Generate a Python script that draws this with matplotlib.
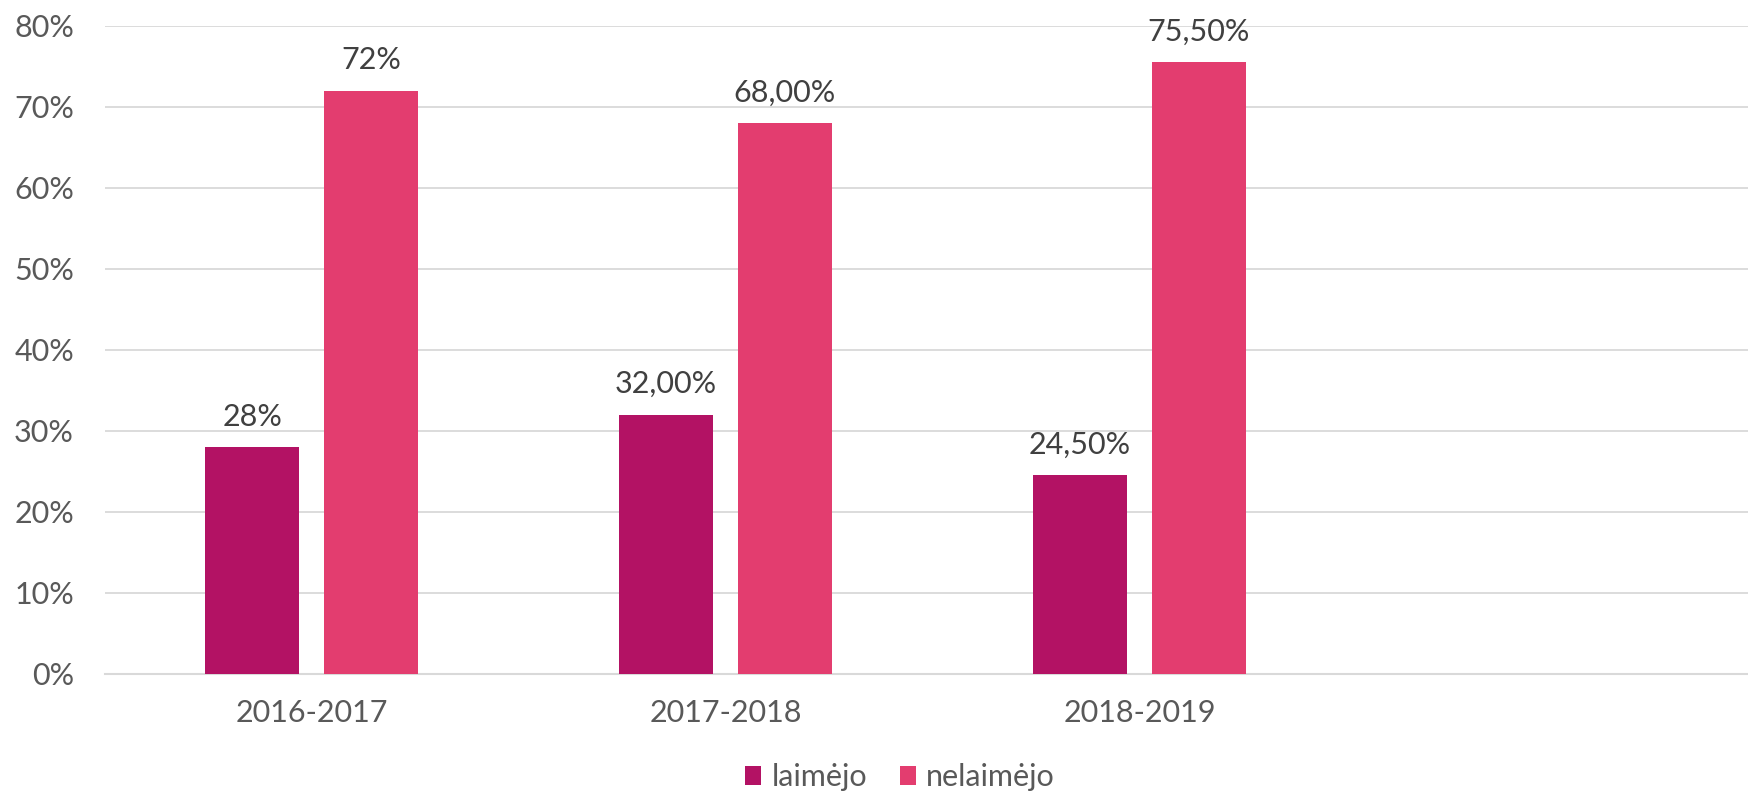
import matplotlib
matplotlib.use('Agg')
import matplotlib.pyplot as plt
from matplotlib.ticker import FuncFormatter

# data
categories = ['2016-2017', '2017-2018', '2018-2019', '']
laimejo = [0.28, 0.32, 0.245]
nelaimejo = [0.72, 0.68, 0.755]
laimejo_labels = ['28%', '32,00%', '24,50%']
nelaimejo_labels = ['72%', '68,00%', '75,50%']
series_names = ['laimėjo', 'nelaimėjo']

plt.rcParams['font.family'] = ['Lato', 'DejaVu Sans']

fig = plt.figure(figsize=(17.48, 7.96), dpi=100)
# plot area runs slightly past the right edge (4th category is empty)
ax = fig.add_axes([0.0598, 0.1533, 0.9474, 0.8144])

width = 0.226
offset = 0.1435
x = list(range(len(laimejo)))
b1 = ax.bar([i - offset for i in x], laimejo, width, color='#B31264', label=series_names[0], zorder=3)
b2 = ax.bar([i + offset for i in x], nelaimejo, width, color='#E33D6F', label=series_names[1], zorder=3)

for bars, labels in [(b1, laimejo_labels), (b2, nelaimejo_labels)]:
    for rect, lab in zip(bars, labels):
        ax.annotate(lab, (rect.get_x() + rect.get_width() / 2, rect.get_height()),
                    xytext=(0, 22), textcoords='offset points', ha='center', va='center',
                    fontsize=22, color='#404040')

ax.set_xlim(-0.5, 3.5)
ax.set_ylim(0, 0.8)
ax.set_yticks([i / 10 for i in range(9)])
ax.yaxis.set_major_formatter(FuncFormatter(lambda v, p: f'{v * 100:.0f}%'))
ax.set_xticks(range(len(categories)))
ax.set_xticklabels(categories)
ax.tick_params(axis='both', length=0, labelsize=22, labelcolor='#595959')
ax.tick_params(axis='x', pad=18)
ax.tick_params(axis='y', pad=22)

ax.grid(axis='y', color='#D9D9D9', linewidth=1.3, zorder=0)
for s in ['top', 'right', 'left']:
    ax.spines[s].set_visible(False)
ax.spines['bottom'].set_color('#D9D9D9')
ax.spines['bottom'].set_linewidth(1.5)

fig.legend(loc='center', bbox_to_anchor=(900 / 1748, 1 - 777 / 796), ncol=2, frameon=False,
           fontsize=22, labelcolor='#595959', handlelength=0.52, handleheight=0.56,
           handletextpad=0.33, columnspacing=1.08, borderpad=0)

fig.savefig('out.png', dpi=100)
